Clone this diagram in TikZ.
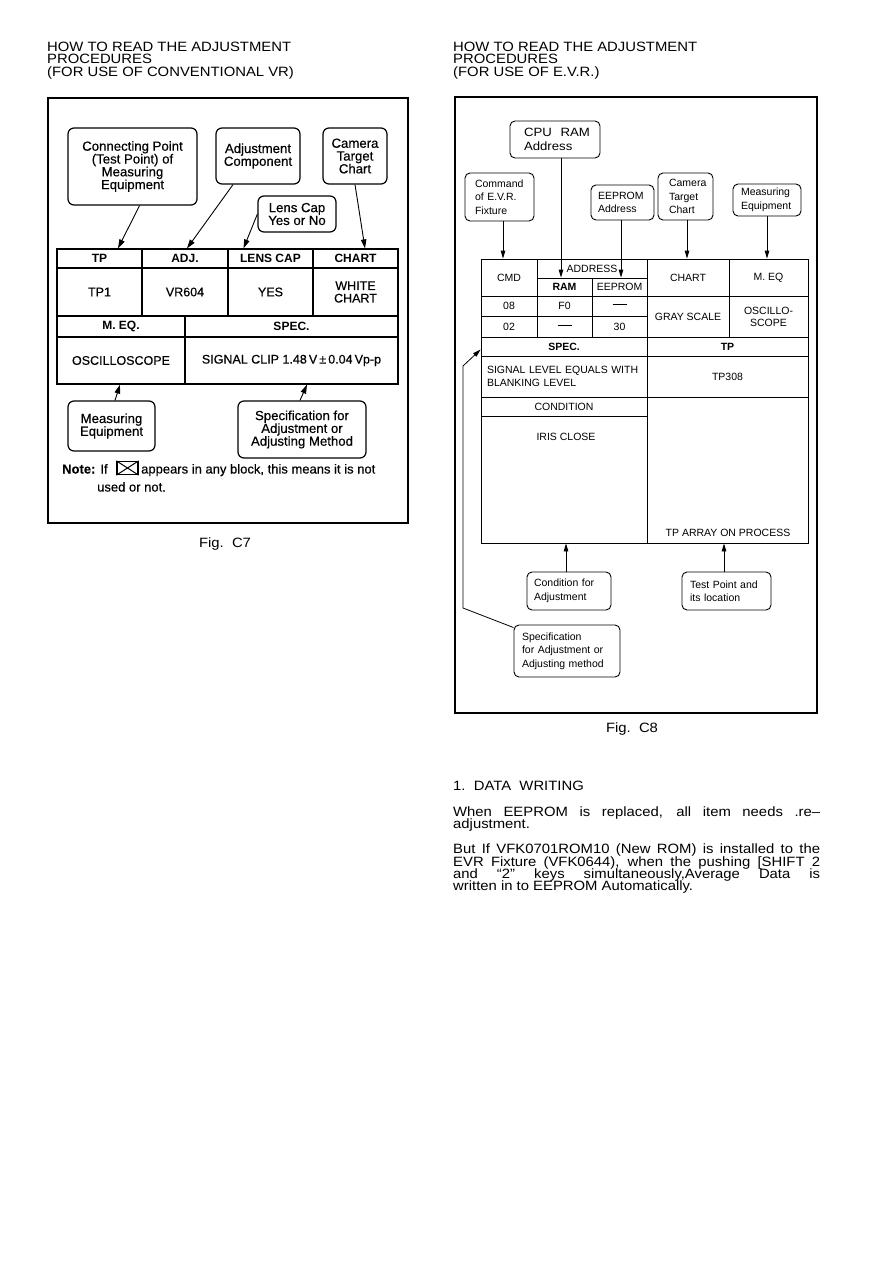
\documentclass[tikz,border=0pt]{standalone}
\usepackage{fontspec}
\usepackage{graphicx}
\setmainfont{Liberation Sans}
\newfontfamily\medf{Liberation Sans}[FakeBold=0.4]
\usetikzlibrary{arrows.meta}
\newcommand\wtxt[1]{\scalebox{1.1}[1]{#1}}
\newcommand\jtxt[1]{\scalebox{1.1}[1]{\makebox[333.6pt][s]{#1}}}
\newcommand\rtxt[1]{\scalebox{1.1}[1]{#1}}
\newcommand\dashrule{\rule[3pt]{14pt}{0.7pt}}
\tikzset{
  frame/.style={draw, line width=1.3pt, inner sep=0pt},
  lbox/.style={draw, rounded corners=6pt, line width=1.2pt, inner sep=0pt, align=center,
    font=\medf\fontsize{13.2}{12.8}\selectfont},
  lcell/.style={draw, line width=1.2pt, inner sep=0pt, align=center},
  lhead/.style={lcell, font=\bfseries\fontsize{12}{12}\selectfont},
  lval/.style={lcell, font=\medf\fontsize{12.5}{12.5}\selectfont},
  larr/.style={-{Triangle[length=9pt,width=5.5pt]}, line width=0.9pt},
  rbox/.style={draw, rounded corners=5pt, line width=0.9pt, inner ysep=0pt, align=left,
    font=\fontsize{10.5}{13.5}\selectfont},
  rcell/.style={draw, line width=0.8pt, inner sep=0pt, align=center,
    font=\fontsize{10.5}{12}\selectfont},
  rarr/.style={-{Triangle[length=8pt,width=4.5pt]}, line width=0.8pt},
  ttl/.style={anchor=base west, inner sep=0pt, font=\fontsize{13.5}{13.5}\selectfont},
  figcap/.style={anchor=base, inner sep=0pt, font=\fontsize{13.5}{13.5}\selectfont}
}
\begin{document}
\begin{tikzpicture}[x=1pt,y=-1pt]
\fill[white] (0,0) rectangle (893,1263);
\useasboundingbox (0,0) rectangle (893,1263);

% ================= LEFT FIGURE =================
\node[ttl] (lt1) at (47,51.5) {\wtxt{HOW TO READ THE ADJUSTMENT}};
\node[ttl] (lt2) at (47,63.5) {\wtxt{PROCEDURES}};
\node[ttl] (lt3) at (47,76.5) {\wtxt{(FOR USE OF CONVENTIONAL VR)}};

\node[frame, minimum width=360pt, minimum height=425pt] (frameL) at (228,310.5) {};

\node[lbox, minimum width=129pt, minimum height=77pt] (cp) at (132.5,166.5)
  {Connecting Point\\(Test Point) of\\Measuring\\Equipment};
\node[lbox, minimum width=84pt, minimum height=56pt] (adj) at (258,156)
  {Adjustment\\Component};
\node[lbox, minimum width=64pt, minimum height=56pt] (cam) at (355,156)
  {Camera\\Target\\Chart};
\node[lbox, minimum width=78pt, minimum height=36pt] (lens) at (297,214)
  {Lens Cap\\Yes or No};

% table
\node[lhead, minimum width=85pt, minimum height=19pt] (h1) at (99.5,258.5) {TP};
\node[lhead, minimum width=86pt, minimum height=19pt] (h2) at (185,258.5) {ADJ.};
\node[lhead, minimum width=85pt, minimum height=19pt] (h3) at (270.5,258.5) {LENS CAP};
\node[lhead, minimum width=85pt, minimum height=19pt] (h4) at (355.5,258.5) {CHART};
\node[lval, minimum width=85pt, minimum height=48pt] (v1) at (99.5,292) {TP1};
\node[lval, minimum width=86pt, minimum height=48pt] (v2) at (185,292) {VR604};
\node[lval, minimum width=85pt, minimum height=48pt] (v3) at (270.5,292) {YES};
\node[lval, minimum width=85pt, minimum height=48pt] (v4) at (355.5,292) {WHITE\\CHART};
\node[lhead, minimum width=128pt, minimum height=21pt] (h5) at (121,326.5) {M. EQ.};
\node[lhead, minimum width=213pt, minimum height=21pt] (h6) at (291.5,326.5) {SPEC.};
\node[lval, minimum width=128pt, minimum height=47pt] (v5) at (121,360.5) {OSCILLOSCOPE};
\node[lval, minimum width=213pt, minimum height=47pt] (v6) at (291.5,360.5)
  {SIGNAL CLIP 1.48\,V\,±\,0.04\,Vp-p};

\node[lbox, minimum width=87pt, minimum height=50pt] (meqb) at (111.5,426)
  {Measuring\\Equipment};
\node[lbox, minimum width=128pt, minimum height=57pt] (specb) at (302,429.5)
  {Specification for\\Adjustment or\\Adjusting Method};

\draw[larr] ([xshift=7pt]cp.south) -- ([xshift=18.5pt]h1.north);
\draw[larr] ([xshift=-25pt]adj.south) -- ([xshift=2pt]h2.north);
\draw[larr] (lens.west) -- ([xshift=-27pt]h3.north);
\draw[larr] (cam.south) -- ([xshift=9.5pt]h4.north);
\draw[larr] ([xshift=3.5pt]meqb.north) -- ([xshift=-1pt]v5.south);
\draw[larr] ([xshift=-2pt]specb.north) -- ([xshift=15.5pt]v6.south);

% note
\node[anchor=base west, inner sep=0pt, font=\medf\fontsize{13}{13}\selectfont] (note1)
  at (62,473.5) {\textbf{Note:}\hspace{5pt}If};
\node[draw, line width=1.3pt, minimum width=21pt, minimum height=13pt, inner sep=0pt] (xbox)
  at (127.5,468) {};
\draw[line width=1pt] (xbox.north west) -- (xbox.south east)
                      (xbox.south west) -- (xbox.north east);
\node[anchor=base west, inner sep=0pt, font=\medf\fontsize{13}{13}\selectfont] (note2)
  at (141,473.5) {appears in any block, this means it is not};
\node[anchor=base west, inner sep=0pt, font=\medf\fontsize{13}{13}\selectfont] (note3)
  at (97,491.5) {used or not.};

\node[figcap] (figc7) at (225,547.5) {\wtxt{Fig.\ \ C7}};

% ================= RIGHT FIGURE =================
\node[ttl] (rt1) at (453,51.5) {\wtxt{HOW TO READ THE ADJUSTMENT}};
\node[ttl] (rt2) at (453,63.5) {\wtxt{PROCEDURES}};
\node[ttl] (rt3) at (453,76.5) {\wtxt{(FOR USE OF E.V.R.)}};

\node[frame, line width=1.2pt, minimum width=362pt, minimum height=616pt] (frameR) at (636,405) {};

\node[rbox, minimum height=37pt, text width=62pt, inner xsep=14pt,
  font=\fontsize{12}{13.5}\selectfont] (cpu) at (555,139.5)
  {\rtxt{CPU\ \ RAM}\\\rtxt{Address}};
\node[rbox, minimum height=48pt, text width=49pt, inner xsep=10pt] (cmd) at (499.5,197)
  {Command\\of E.V.R.\\Fixture};
\node[rbox, minimum height=35pt, text width=49pt, inner xsep=7pt] (eep) at (622.5,202.5)
  {EEPROM\\Address};
\node[rbox, minimum height=47pt, text width=33pt, inner xsep=11pt] (camr) at (685.5,196.5)
  {Camera\\Target\\Chart};
\node[rbox, minimum height=32pt, text width=52pt, inner xsep=8pt] (meqr) at (767,200)
  {Measuring\\Equipment};

% table
\node[rcell, minimum width=56pt, minimum height=37pt] (cmdh) at (509,277.5) {CMD};
\node[rcell, minimum width=110pt, minimum height=19pt] (addh) at (592,268.5) {ADDRESS};
\node[rcell, minimum width=55pt, minimum height=18pt] (ramh) at (564.5,287) {\textbf{RAM}};
\node[rcell, minimum width=55pt, minimum height=18pt] (eeph) at (619.5,287) {EEPROM};
\node[rcell, minimum width=82pt, minimum height=37pt] (chh) at (688,277.5) {CHART};
\node[rcell, minimum width=79pt, minimum height=37pt] (meh) at (768.5,277.5) {M. EQ};
\node[rcell, minimum width=56pt, minimum height=20pt] (c08) at (509,306) {08};
\node[rcell, minimum width=55pt, minimum height=20pt] (cf0) at (564.5,306) {F0};
\node[rcell, minimum width=55pt, minimum height=20pt] (cd1) at (619.5,306) {\dashrule};
\node[rcell, minimum width=56pt, minimum height=21pt] (c02) at (509,326.5) {02};
\node[rcell, minimum width=55pt, minimum height=21pt] (cd2) at (564.5,326.5) {\dashrule};
\node[rcell, minimum width=55pt, minimum height=21pt] (c30) at (619.5,326.5) {30};
\node[rcell, minimum width=82pt, minimum height=41pt] (gray) at (688,316.5) {GRAY SCALE};
\node[rcell, minimum width=79pt, minimum height=41pt] (osc) at (768.5,316.5) {OSCILLO-\\SCOPE};
\node[rcell, minimum width=166pt, minimum height=19pt] (spech) at (564,346.5) {\textbf{SPEC.}};
\node[rcell, minimum width=161pt, minimum height=19pt] (tph) at (727.5,346.5) {\textbf{TP}};
\node[rcell, minimum height=41pt, text width=154pt, inner xsep=6pt, align=left,
  font=\fontsize{10.5}{13}\selectfont] (sig) at (564,376.5)
  {SIGNAL LEVEL EQUALS WITH\\BLANKING LEVEL};
\node[rcell, minimum width=161pt, minimum height=41pt] (tp308) at (727.5,376.5) {TP308};
\node[rcell, minimum width=166pt, minimum height=19pt] (condh) at (564,406.5) {CONDITION};
\node[rcell, minimum width=166pt, minimum height=127pt] (iris) at (564,479.5) {};
\node[rcell, minimum width=161pt, minimum height=146pt] (tparr) at (727.5,470) {};
\node[inner sep=0pt, font=\fontsize{10.5}{12}\selectfont] (iristxt) at (566,437) {IRIS CLOSE};
\node[inner sep=0pt, font=\fontsize{10.5}{12}\selectfont] (tparrtxt) at (728,533) {TP ARRAY ON PROCESS};

\draw[rarr] ([xshift=3.5pt]cmd.south) -- ([xshift=-6pt]cmdh.north);
\draw[rarr] ([xshift=6pt]cpu.south) -- ([xshift=-3.5pt]ramh.north);
\draw[rarr] ([xshift=-1.5pt]eep.south) -- ([xshift=1.5pt]eeph.north);
\draw[rarr] ([xshift=1.5pt]camr.south) -- ([xshift=-1pt]chh.north);
\draw[rarr] (meqr.south) -- ([xshift=-1.5pt]meh.north);

\node[rbox, minimum height=38pt, text width=70pt, inner xsep=7pt] (condb) at (569,591)
  {Condition for\\Adjustment};
\node[rbox, minimum height=38pt, text width=73pt, inner xsep=8pt] (tpt) at (726.5,591)
  {Test Point and\\its location};
\node[rbox, minimum height=52pt, text width=90pt, inner xsep=8pt] (spc) at (567,651)
  {Specification\\for Adjustment or\\Adjusting method};

\draw[rarr] ([xshift=-3pt]condb.north) -- ([xshift=2pt]iris.south);
\draw[rarr] ([xshift=-2.5pt]tpt.north) -- ([xshift=-3.5pt]tparr.south);
\coordinate (lk1) at (463,608);
\coordinate (lk2) at (463,366);
\draw[rarr] ([yshift=-3pt]spc.north west) -- (lk1) -- (lk2) -- ([yshift=-3pt]spech.west);

\node[figcap] (figc8) at (632,732.5) {\wtxt{Fig.\ \ C8}};

% ================= TEXT =================
\node[ttl] (dw) at (453,790.5) {\wtxt{1.\ \ DATA\ \ WRITING}};
\node[ttl] (p1) at (453,816.5) {\jtxt{When EEPROM is replaced, all item needs .re–}};
\node[ttl] (p2) at (453,828.5) {\wtxt{adjustment.}};
\node[ttl] (p3) at (453,853.5) {\jtxt{But If VFK0701ROM10 (New ROM) is installed to the}};
\node[ttl] (p4) at (453,866) {\jtxt{EVR Fixture (VFK0644), when the pushing [SHIFT 2}};
\node[ttl] (p5) at (453,878.5) {\jtxt{and “2” keys simultaneously,Average Data is}};
\node[ttl] (p6) at (453,890.5) {\wtxt{written in to EEPROM Automatically.}};
\end{tikzpicture}
\end{document}
